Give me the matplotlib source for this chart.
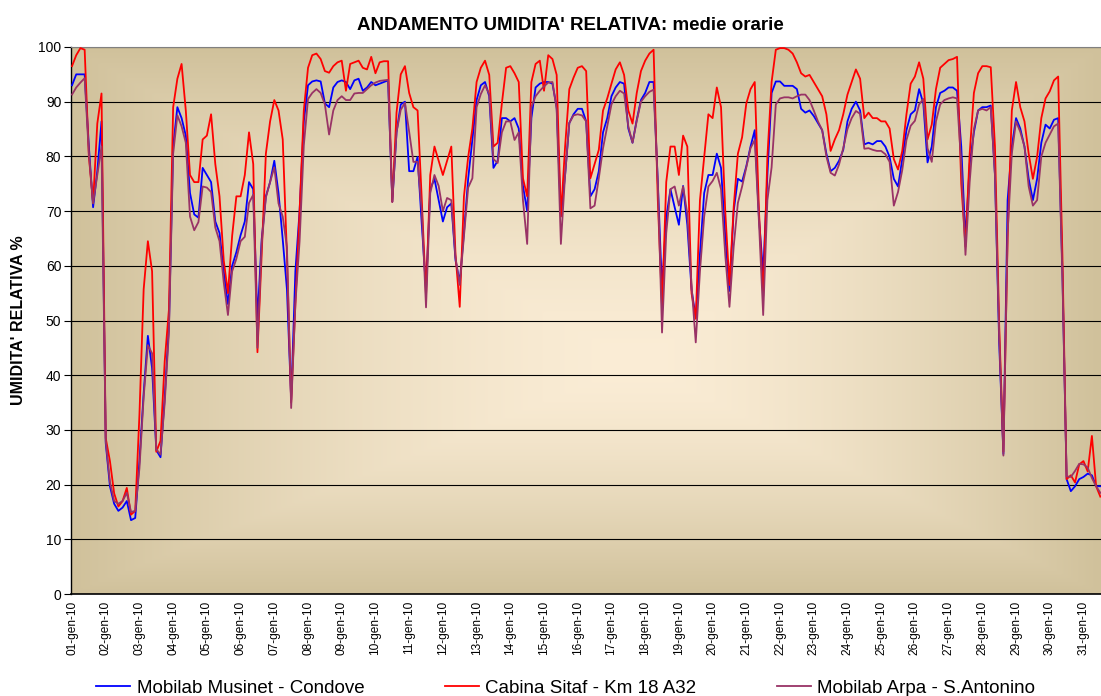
import numpy as np
import pandas as pd
import matplotlib
matplotlib.use("Agg")
import matplotlib.pyplot as plt
import matplotlib.dates as mdates
from matplotlib.ticker import FuncFormatter

plt.rcParams['font.family'] = ['Liberation Sans', 'DejaVu Sans']

# medie orarie lette ogni 3 ore, dal 01-gen-10 00:00 (una riga = un giorno)
musinet = [
    93, 95, 95, 95, 81.8, 70.7, 77.3, 86.4,
    27.6, 19.7, 16.5, 15.2, 15.8, 17, 13.5, 13.9,
    24.3, 36.7, 47.2, 41.3, 26.3, 25, 36, 49,
    81.8, 89, 87, 83.8, 73.3, 69.4, 68.8, 77.9,
    76.6, 75.3, 68.1, 66, 59, 53, 60, 62.5,
    65.6, 68.1, 75.3, 74, 50, 64.8, 72.7, 75.3,
    79.2, 73.3, 64.8, 55.7, 35.5, 59, 70, 86.4,
    93, 93.7, 93.9, 93.7, 89.7, 89, 92.6, 93.6,
    93.9, 93.6, 92.3, 93.9, 94.2, 92, 92.6, 93.6,
    93, 93.3, 93.6, 93.9, 71.7, 84.4, 89.5, 90,
    77.3, 77.3, 79.9, 67.5, 55.7, 74, 75.9, 72,
    68.1, 70.7, 71.4, 61, 57, 66.1, 75.9, 83.1,
    90.3, 93, 93.6, 91, 77.9, 79.2, 87, 87,
    86.4, 87, 85.1, 74.6, 70, 87, 92.6, 93.3,
    93.6, 93.6, 93.3, 89, 69.1, 76.6, 86.1, 87.7,
    88.7, 88.7, 86.4, 72.7, 74, 77.3, 84.4, 87,
    91, 92.6, 93.6, 93.3, 85.1, 82.5, 86.7, 90.3,
    91.6, 93.6, 93.6, 75.3, 55.7, 68.8, 74, 70.7,
    67.5, 74.6, 67.5, 55.7, 50.5, 62.2, 73.3, 76.6,
    76.6, 80.5, 77.9, 65.5, 55.4, 70, 75.9, 75.4,
    78.2, 81.8, 84.8, 68.8, 58.6, 76.6, 91.6, 93.7,
    93.7, 92.9, 92.9, 92.9, 92.3, 88.7, 88, 88.4,
    87.4, 86.1, 84.8, 80.5, 77.3, 77.9, 79.2, 81.2,
    86.4, 88.7, 90, 88.4, 82.2, 82.5, 82.2, 82.8,
    82.8, 81.8, 79.9, 75.9, 74.5, 79.5, 84.8, 87.7,
    88.4, 92.3, 89.7, 78.9, 81.8, 89, 91.6, 92,
    92.6, 92.6, 92, 81.8, 64.8, 78.6, 84.4, 88.4,
    89, 89, 89.3, 76.6, 45.9, 25.6, 72, 81.8,
    87, 85.1, 81.8, 75.9, 72, 75.9, 82.5, 85.8,
    85.1, 86.7, 87, 59, 21, 18.8, 19.7, 21,
    21.4, 22, 21.7, 19.7, 19.7,
]
sitaf = [
    96.5, 98.5, 99.8, 99.5, 80, 71.5, 86, 91.5,
    28.5, 24.3, 18.4, 16, 17, 19.4, 14.5, 15.2,
    32.8, 55.7, 64.5, 59, 26, 28, 42.6, 52,
    89, 94.2, 96.9, 88.4, 76.6, 75.3, 75.3, 83.1,
    83.8, 87.7, 78.6, 72.7, 61, 55, 65.5, 72.7,
    72.7, 76.6, 84.4, 78.6, 44.2, 62, 80.5, 86.4,
    90.3, 88.4, 83.1, 62, 35, 53, 70, 88.4,
    96.2, 98.5, 98.8, 97.8, 95.6, 95.3, 96.5, 97.2,
    97.5, 92, 96.9, 97.2, 97.5, 96.2, 95.9, 98.2,
    95.2, 97.2, 97.4, 97.4, 71.7, 88, 95, 96.5,
    91.6, 89, 88.4, 72, 54.4, 76.6, 81.8, 79.2,
    76.6, 79.2, 81.8, 62, 52.5, 72.7, 79.9, 85.1,
    93.6, 96.2, 97.5, 94.9, 81.8, 82.5, 89.7, 96.2,
    96.5, 95.2, 93.6, 76, 72.7, 93.6, 96.9, 97.5,
    92, 98.5, 97.8, 94.9, 69, 81.8, 92.3, 94.4,
    96.2, 96.5, 95.6, 76, 78.6, 81.2, 88.4, 90.6,
    93.3, 95.9, 97.2, 94.9, 88.4, 86, 91.6, 95.6,
    97.5, 98.8, 99.5, 72, 52.4, 75.3, 81.8, 81.8,
    76.6, 83.8, 81.8, 55, 50.3, 72, 79.9, 87.7,
    87, 92.6, 89, 70, 56.5, 70.7, 80.5, 83.5,
    89.7, 92.3, 93.6, 70, 54.4, 79.9, 93.6, 99.5,
    99.8, 99.8, 99.5, 98.8, 97.2, 95.2, 94.6, 94.9,
    93.6, 92.3, 91, 87.7, 81, 83.1, 84.8, 87.7,
    91.3, 93.6, 95.9, 94.2, 87, 88, 87, 87,
    86.4, 86.4, 85.1, 79.5, 77.6, 81, 87.7, 93.3,
    94.6, 97.2, 94.2, 83.1, 85.8, 92.3, 96.2, 96.9,
    97.6, 97.8, 98.2, 75, 63.5, 80.5, 91.6, 95.2,
    96.5, 96.5, 96.3, 81.8, 49.2, 26, 65, 88.4,
    93.6, 89, 86.4, 80.5, 75.9, 79.9, 87, 90.6,
    91.9, 93.9, 94.6, 62, 21, 21.7, 20.4, 23.7,
    24.3, 22.4, 28.9, 19.7, 17.8,
]
arpa = [
    91.3, 92.6, 93.5, 94.3, 80.5, 71.4, 76.6, 81.8,
    28, 20.5, 17, 16.5, 17, 18.5, 15, 15.2,
    23, 36, 45.5, 44, 26.5, 25.5, 35, 48,
    80.5, 87.5, 85.5, 82.5, 69, 66.5, 68, 74.5,
    74.3, 73.5, 67, 64.5, 57, 51, 59, 61.3,
    64.5, 65.3, 71.5, 73, 45, 64, 72.5, 75.3,
    78, 71.4, 69, 63.4, 34, 53, 64.5, 82,
    90.5, 91.6, 92.3, 91.6, 89.5, 84, 88.4, 90.3,
    91, 90.3, 90.3, 91.5, 91.6, 91.6, 92.3, 93,
    93.5, 93.8, 93.9, 94, 71.7, 84.4, 88.5, 89.8,
    84.5, 79, 79, 70, 52.4, 73.3, 76.6, 74.6,
    70, 72.4, 72, 61.5, 56.5, 65.5, 74.3, 76,
    89, 91.4, 93, 91.4, 79.5, 78.8, 84.4, 86.4,
    86.4, 83, 84.4, 72, 64, 89, 91, 92,
    92.8, 93.5, 93.6, 88.6, 64, 76.6, 86.1, 87.5,
    87.7, 87.5, 86.4, 70.5, 71, 76, 81.5, 85.5,
    89.5, 91, 92, 91.5, 85.5, 82.5, 86.5, 90,
    91, 91.8, 92.2, 75.3, 47.8, 66, 74, 74.5,
    71, 74.5, 69.5, 56.5, 46, 59, 69, 74.5,
    75.5, 77, 74, 62, 52.5, 63.5, 71.5, 74.5,
    78, 81.5, 83, 68, 51, 72, 78, 89.5,
    90.6, 90.8, 90.8, 90.6, 91, 91.3, 91.3, 90.3,
    88.4, 86.4, 84.8, 80, 77, 76.5, 78.5, 81.5,
    85, 87, 88.3, 87.8, 81.4, 81.5, 81.2, 81,
    81, 80.4, 79, 71, 73.5, 77.5, 83, 85.6,
    86.5, 89.5, 90.5, 81.5, 79, 86.4, 89.5, 90.3,
    90.6, 90.8, 90.6, 78.5, 62, 75.3, 85, 88.4,
    88.7, 88.4, 89, 76.6, 47.5, 25.3, 66, 80.5,
    86.4, 84.5, 81.8, 74.5, 71, 72, 80, 82.5,
    84, 85.5, 86, 58, 21.5, 21.4, 22.5, 23.8,
    23.7, 23.1, 21.2, 19.7, 18.5,
]
series = [
    ("Mobilab Musinet - Condove", musinet, "#0000FF"),
    ("Cabina Sitaf - Km 18 A32", sitaf, "#FF0000"),
    ("Mobilab Arpa - S.Antonino", arpa, "#993366"),
]
times = pd.date_range("2010-01-01 00:00", periods=len(musinet), freq="3h")

W, H = 1101, 696
fig = plt.figure(figsize=(W / 100, H / 100), dpi=100)
ax = fig.add_axes([71 / W, 1 - 594 / H, 1 - 71 / W, 547 / H])

# sfondo a gradiente (chiaro al centro, beige scuro ai bordi)
ny, nx = 200, 400
u, v = np.meshgrid(np.linspace(0, 1, nx), np.linspace(0, 1, ny))
cx, cy = 0.55, 0.42
du = np.where(u < cx, (cx - u) / cx, (u - cx) / (1 - cx))
dv = np.where(v < cy, (cy - v) / cy, (v - cy) / (1 - cy))
t = np.maximum(du, dv) ** 1.5
c_in = np.array([251, 237, 214]) / 255
c_out = np.array([208, 193, 155]) / 255
grad = c_in + (c_out - c_in) * t[..., None]
ax.imshow(grad, extent=[0, 1, 0, 1], transform=ax.transAxes, origin="lower",
          aspect="auto", zorder=0, interpolation="bilinear")

for name, vals, col in series:
    ax.plot(times, vals, color=col, lw=1.3, label=name, zorder=3)

x0 = mdates.date2num(times[0])
ax.set_xlim(x0 - 0.03, x0 + 30.52)
ax.set_ylim(0, 100)
ax.set_yticks(range(0, 101, 10))
ax.yaxis.grid(True, color="black", lw=0.8)
ax.xaxis.set_major_locator(mdates.DayLocator())
ax.xaxis.set_major_formatter(FuncFormatter(
    lambda x, pos: mdates.num2date(x).strftime("%d") + "-gen-10"))
ax.tick_params(axis="x", labelrotation=90, labelsize=8.6, length=0, pad=5)
ax.tick_params(axis="y", labelsize=10, length=5, width=0.8, pad=2)

ax.spines["right"].set_visible(False)
ax.spines["top"].set_color("#808080")
ax.spines["left"].set_linewidth(1.0)
ax.spines["bottom"].set_linewidth(1.2)

ax.set_ylabel("UMIDITA' RELATIVA %", fontsize=11.5, fontweight="bold", labelpad=9)
fig.suptitle("ANDAMENTO UMIDITA' RELATIVA: medie orarie", fontsize=13.5,
             fontweight="bold", x=0.518, y=0.975)

fig.legend(loc="center", bbox_to_anchor=(0.514, 1 - 688 / H), ncol=3,
           frameon=False, fontsize=13.5, handlelength=1.8, handletextpad=0.35,
           columnspacing=4.3)

fig.savefig("out.png", dpi=100)
